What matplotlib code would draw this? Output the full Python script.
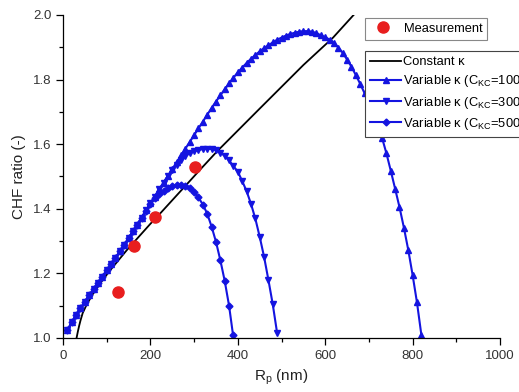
import matplotlib
matplotlib.use('Agg')
import matplotlib.pyplot as plt

plt.rcParams['font.family'] = ['Liberation Sans', 'DejaVu Sans']

# measurement points
meas_r = [126, 162, 210, 303]
meas_chf = [1.142, 1.286, 1.376, 1.528]

# constant kappa
const_r = [31, 34, 37, 40, 45, 54, 70, 90, 107, 146, 199, 222, 274, 313, 352, 450, 550, 618, 665, 690]
const_chf = [1.0, 1.02, 1.038, 1.054, 1.077, 1.103, 1.140, 1.178, 1.208, 1.272, 1.352, 1.385,
             1.462, 1.52, 1.577, 1.71, 1.845, 1.93, 2.0, 2.035]

# variable kappa, C_KC = 100
r100 = [10, 20, 30, 40, 50, 60, 70, 80, 90, 100, 110, 120, 130, 140, 150, 160, 170, 180, 190, 200,
        210, 220, 230, 240, 250, 260, 270, 280, 290, 300, 310, 320, 330, 340, 350, 360, 370, 380,
        390, 400, 410, 420, 430, 440, 450, 460, 470, 480, 490, 500, 510, 520, 530, 540, 550, 560,
        570, 580, 590, 600, 610, 620, 630, 640, 650, 660, 670, 680, 690, 700, 710, 720, 730, 740,
        750, 760, 770, 780, 790, 800, 810, 820]
chf100 = [1.024, 1.048, 1.071, 1.092, 1.112, 1.132, 1.152, 1.171, 1.190, 1.209, 1.228, 1.248,
          1.268, 1.288, 1.309, 1.330, 1.351, 1.373, 1.395, 1.417, 1.438, 1.460, 1.481, 1.502,
          1.523, 1.544, 1.565, 1.586, 1.607, 1.628, 1.649, 1.670, 1.691, 1.712, 1.732, 1.751,
          1.770, 1.788, 1.806, 1.822, 1.837, 1.851, 1.864, 1.876, 1.887, 1.897, 1.906, 1.915,
          1.923, 1.930, 1.936, 1.941, 1.945, 1.948, 1.950, 1.950, 1.948, 1.944, 1.937, 1.931,
          1.924, 1.914, 1.899, 1.883, 1.862, 1.840, 1.814, 1.787, 1.758, 1.726, 1.692, 1.657,
          1.620, 1.572, 1.518, 1.462, 1.405, 1.342, 1.273, 1.195, 1.110, 1.010]

# variable kappa, C_KC = 300
r300 = [10, 20, 30, 40, 50, 60, 70, 80, 90, 100, 110, 120, 130, 140, 150, 160, 170, 180, 190, 200,
        210, 220, 230, 240, 250, 260, 270, 280, 290, 300, 310, 320, 330, 340, 350, 360, 370, 380,
        390, 400, 410, 420, 430, 440, 450, 460, 470, 480, 490]
chf300 = [1.024, 1.048, 1.071, 1.092, 1.112, 1.132, 1.152, 1.171, 1.190, 1.209, 1.228, 1.248,
          1.268, 1.288, 1.309, 1.330, 1.351, 1.373, 1.395, 1.417, 1.438, 1.460, 1.481, 1.502,
          1.520, 1.537, 1.551, 1.563, 1.572, 1.578, 1.582, 1.585, 1.586, 1.585, 1.581, 1.574,
          1.564, 1.550, 1.532, 1.515, 1.486, 1.455, 1.416, 1.370, 1.314, 1.252, 1.180, 1.104,
          1.015]

# variable kappa, C_KC = 500
r500 = [10, 20, 30, 40, 50, 60, 70, 80, 90, 100, 110, 120, 130, 140, 150, 160, 170, 180, 190, 200,
        210, 220, 230, 240, 250, 260, 270, 280, 290, 300, 310, 320, 330, 340, 350, 360, 370, 380,
        389]
chf500 = [1.024, 1.048, 1.071, 1.092, 1.112, 1.132, 1.152, 1.171, 1.190, 1.209, 1.228, 1.248,
          1.268, 1.288, 1.309, 1.330, 1.351, 1.373, 1.394, 1.414, 1.432, 1.445, 1.455, 1.463,
          1.469, 1.473, 1.474, 1.472, 1.465, 1.452, 1.435, 1.413, 1.385, 1.345, 1.298, 1.241,
          1.177, 1.100, 1.010]

blue = '#1414e0'

fig = plt.figure(figsize=(5.19, 3.92), dpi=100)
ax = fig.add_axes([0.1214, 0.1378, 0.842, 0.824])

m_line, = ax.plot(meas_r, meas_chf, 'o', color='#e81e1e', markersize=8, label='Measurement', zorder=5)
c_line, = ax.plot(const_r, const_chf, color='black', lw=1.3, label='Constant κ')
l100, = ax.plot(r100, chf100, color=blue, lw=1.5, marker='^', markersize=4.5,
                label='Variable κ (C$_{\\mathregular{KC}}$=100)')
l300, = ax.plot(r300, chf300, color=blue, lw=1.5, marker='v', markersize=4.5,
                label='Variable κ (C$_{\\mathregular{KC}}$=300)')
l500, = ax.plot(r500, chf500, color=blue, lw=1.5, marker='D', markersize=3.5,
                label='Variable κ (C$_{\\mathregular{KC}}$=500)')

ax.set_xlim(0, 1000)
ax.set_ylim(1.0, 2.0)
ax.set_xticks([0, 200, 400, 600, 800, 1000])
ax.set_xticks([100, 300, 500, 700, 900], minor=True)
ax.set_yticks([1.0, 1.2, 1.4, 1.6, 1.8, 2.0])
ax.set_yticks([1.1, 1.3, 1.5, 1.7, 1.9], minor=True)
ax.yaxis.set_major_formatter(plt.FormatStrFormatter('%.1f'))
ax.tick_params(which='major', direction='out', length=5, width=0.9, labelsize=9.5,
               labelcolor='#333333')
ax.tick_params(which='minor', direction='out', length=3, width=0.9)
for s in ['top', 'right']:
    ax.spines[s].set_visible(False)
for s in ['left', 'bottom']:
    ax.spines[s].set_linewidth(0.9)

ax.set_xlabel('R$_{\\mathregular{p}}$ (nm)', fontsize=11, color='#222222', labelpad=4)
ax.set_ylabel('CHF ratio (-)', fontsize=11, color='#222222', labelpad=5)

# two separate legend boxes, top right
leg1 = ax.legend(handles=[m_line], loc='upper left', bbox_to_anchor=(0.703, 0.955),
                 bbox_transform=fig.transFigure, borderaxespad=0, fancybox=False,
                 edgecolor='#888888', fontsize=9.3, handlelength=2.0, handletextpad=0.6,
                 framealpha=1, borderpad=0.4)
leg1.get_frame().set_linewidth(0.8)
ax.add_artist(leg1)

leg2 = ax.legend(handles=[c_line, l100, l300, l500], loc='upper left',
                 bbox_to_anchor=(0.703, 0.870), bbox_transform=fig.transFigure,
                 borderaxespad=0, fancybox=False, edgecolor='#444444', fontsize=9.3,
                 handlelength=2.4, handletextpad=0.15, labelspacing=0.4, framealpha=1,
                 borderpad=0.4)
leg2.get_frame().set_linewidth(0.8)

plt.savefig('out.png', dpi=100)
